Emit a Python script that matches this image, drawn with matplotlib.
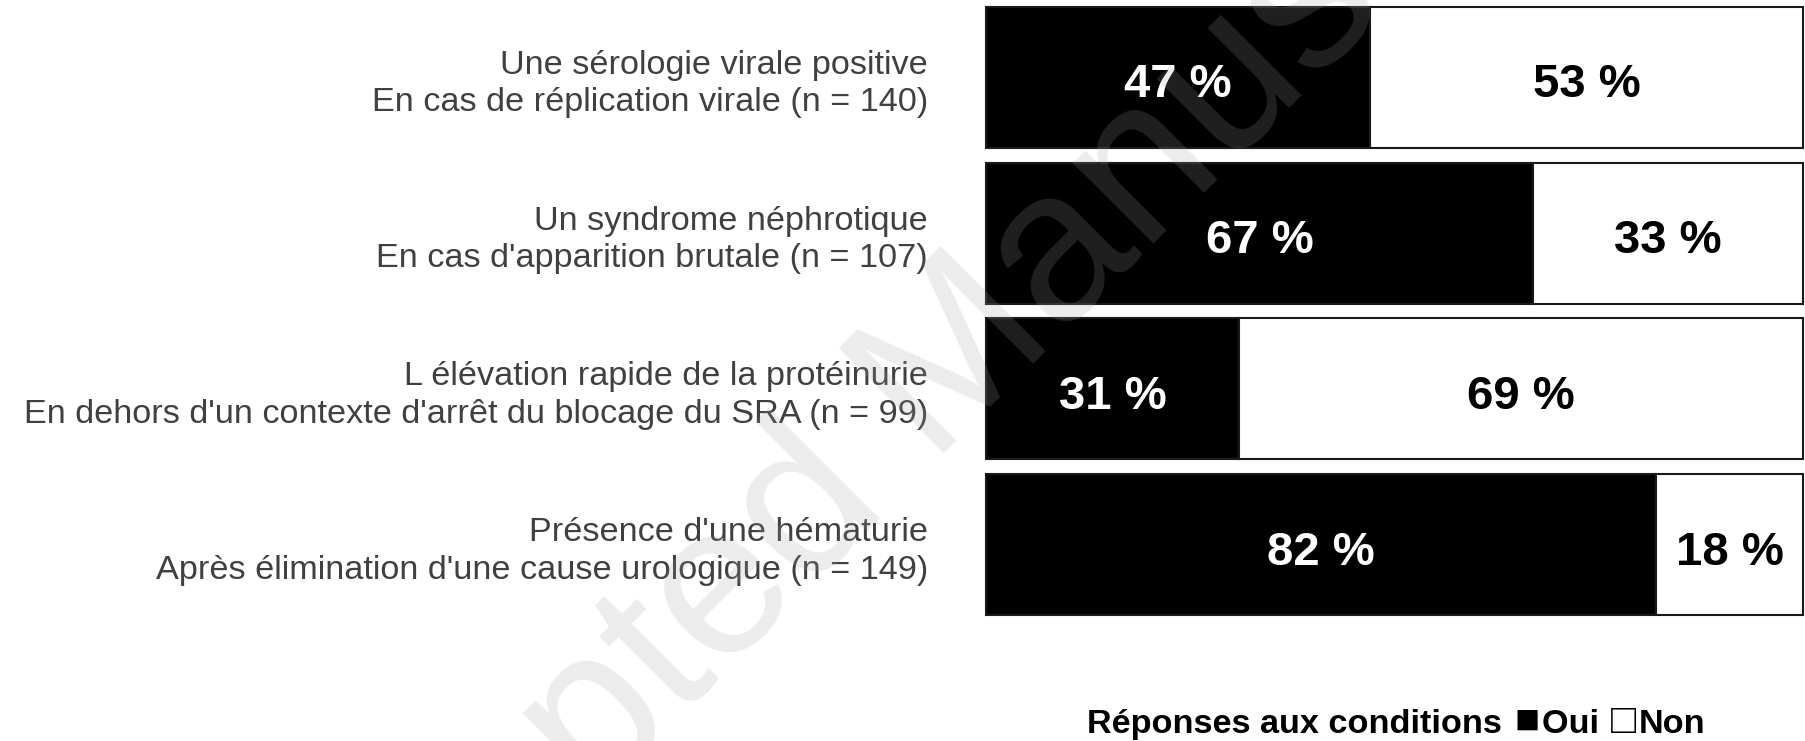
import numpy as np
import matplotlib
matplotlib.use('Agg')
import matplotlib.pyplot as plt
from matplotlib.offsetbox import TextArea, HPacker, AnchoredOffsetbox

plt.rcParams['font.family'] = ['Liberation Sans', 'DejaVu Sans']

conditions = [
    "Une sérologie virale positive\nEn cas de réplication virale (n = 140)",
    "Un syndrome néphrotique\nEn cas d'apparition brutale (n = 107)",
    "L élévation rapide de la protéinurie\nEn dehors d'un contexte d'arrêt du blocage du SRA (n = 99)",
    "Présence d'une hématurie\nAprès élimination d'une cause urologique (n = 149)",
]
oui = [47, 67, 31, 82]
non = [53, 33, 69, 18]

W, H = 1805, 741
fig = plt.figure(figsize=(W / 100, H / 100), dpi=100)
ax = fig.add_axes([986 / W, 0, 817 / W, 1])

y = np.arange(len(conditions))
ax.barh(y, oui, height=0.905, color='black', edgecolor='#1a1a1a', linewidth=1.5, clip_on=False)
ax.barh(y, non, left=oui, height=0.905, color='white', edgecolor='#1a1a1a', linewidth=1.5, clip_on=False)

for i in range(len(y)):
    ax.text(oui[i] / 2, y[i] + 0.128, f"{oui[i]} %", color='white', fontsize=34,
            fontweight='bold', ha='center', va='baseline')
    ax.text(oui[i] + non[i] / 2, y[i] + 0.128, f"{non[i]} %", color='black', fontsize=34,
            fontweight='bold', ha='center', va='baseline')

ax.set_xlim(0, 100)
ax.set_ylim(4.26, -0.4955)
ax.set_yticks(y)
ax.set_yticklabels(conditions, fontsize=24.7, color='#404040', linespacing=1.27)
ax.tick_params(axis='y', length=0, pad=41.8)
ax.set_xticks([])
for s in ax.spines.values():
    s.set_visible(False)
ax.patch.set_visible(False)

# legend line at the bottom: text with bigger square glyphs
bold = dict(fontsize=24.7, fontweight='bold', color='black')
sq = dict(fontsize=30, color='black')
parts = [
    TextArea("Réponses aux conditions ", textprops=bold),
    TextArea("\u25a0", textprops=sq),
    TextArea("Oui ", textprops=bold),
    TextArea("\u25a1", textprops=sq),
    TextArea("Non", textprops=bold),
]
row = HPacker(children=parts, align='baseline', pad=0, sep=2)
box = AnchoredOffsetbox(loc='lower left', child=row, pad=0, borderpad=0, frameon=False,
                        bbox_to_anchor=(1087 / W, 1 - 742 / H), bbox_transform=fig.transFigure)
fig.add_artist(box)

# watermark
fig.text(927 / W, 349 / H, "Accepted Manuscript", fontsize=155, color='#a0a0a0',
         alpha=0.2, rotation=45, rotation_mode='anchor', ha='center', va='center', zorder=10)

fig.savefig('out.png', dpi=100)
